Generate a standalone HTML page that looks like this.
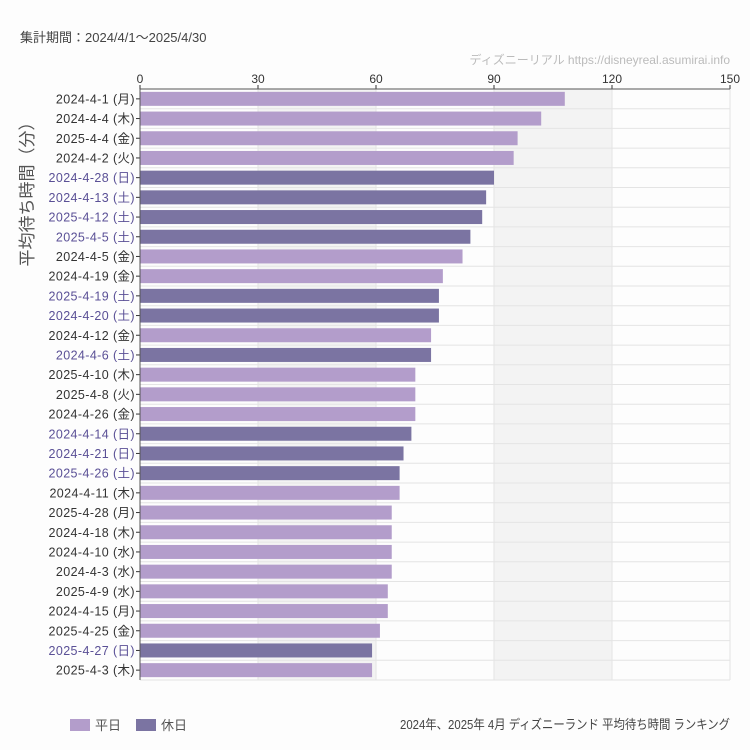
<!DOCTYPE html>
<html><head><meta charset="utf-8"><style>
body{margin:0;background:#fdfdfd;width:750px;height:750px;overflow:hidden}
svg{display:block;font-family:"Liberation Sans","Noto Sans CJK JP",sans-serif}
</style></head><body>
<svg id="chart" width="750" height="750">
<text x="20" y="42" font-size="13" fill="#444">集計期間：2024/4/1～2025/4/30</text>
<text x="730" y="64" font-size="12" fill="#bbb" text-anchor="end">ディズニーリアル https://disneyreal.asumirai.info</text>
<text transform="translate(33,190) rotate(-90)" font-size="17" fill="#555" text-anchor="middle">平均待ち時間（分）</text>
<g id="plot"></g>
<rect x="70" y="719" width="20" height="12" fill="#b39dcb"/>
<text x="95" y="730" font-size="13" fill="#555">平日</text>
<rect x="136" y="719" width="20" height="12" fill="#7b74a2"/>
<text x="161" y="730" font-size="13" fill="#555">休日</text>
<text x="730" y="729" font-size="13" fill="#444" text-anchor="end" textLength="330" lengthAdjust="spacingAndGlyphs">2024年、2025年 4月 ディズニーランド 平均待ち時間 ランキング</text>
</svg>
<script>
const categories=["2024-4-1 (月)","2024-4-4 (木)","2025-4-4 (金)","2024-4-2 (火)","2024-4-28 (日)","2024-4-13 (土)","2025-4-12 (土)","2025-4-5 (土)","2024-4-5 (金)","2024-4-19 (金)","2025-4-19 (土)","2024-4-20 (土)","2024-4-12 (金)","2024-4-6 (土)","2025-4-10 (木)","2025-4-8 (火)","2024-4-26 (金)","2024-4-14 (日)","2024-4-21 (日)","2025-4-26 (土)","2024-4-11 (木)","2025-4-28 (月)","2024-4-18 (木)","2024-4-10 (水)","2024-4-3 (水)","2025-4-9 (水)","2024-4-15 (月)","2025-4-25 (金)","2025-4-27 (日)","2025-4-3 (木)"];
const values=[108,102,96,95,90,88,87,84,82,77,76,76,74,74,70,70,70,69,67,66,66,64,64,64,64,63,63,61,59,59];
const holiday=[0,0,0,0,1,1,1,1,0,0,1,1,0,1,0,0,0,1,1,1,0,0,0,0,0,0,0,0,1,0];
const ticks=[0,30,60,90,120,150];
const X0=140,X1=730,Y0=89,Y1=680,MAX=150;
const xs=v=>X0+(X1-X0)*v/MAX;
const step=(Y1-Y0)/categories.length;
const ys=i=>Y0+step*i;
const NS="http://www.w3.org/2000/svg";
const g=document.getElementById('plot');
function mk(t,a){const e=document.createElementNS(NS,t);for(const k in a)e.setAttribute(k,a[k]);g.appendChild(e);return e;}
for(let i=0;i<ticks.length-1;i++){if(i%2==1){const r=mk('rect',{x:xs(ticks[i]),y:Y0,width:xs(ticks[i+1])-xs(ticks[i]),height:Y1-Y0,fill:'#f3f3f3'});

}}
for(let i=0;i<=categories.length;i++){const l=mk('line',{x1:X0,x2:X1,y1:ys(i),y2:ys(i),stroke:'#e4e4e4'});

}
ticks.forEach(t=>{const l=mk('line',{x1:xs(t),x2:xs(t),y1:Y0,y2:Y1,stroke:'#e4e4e4'});


const tk=mk('line',{x1:xs(t),x2:xs(t),y1:Y0-4,y2:Y0,stroke:'#333'});


const tx=mk('text',{x:xs(t),y:Y0-6,'font-size':12,fill:'#333','text-anchor':'middle'});tx.textContent=t;

});
categories.forEach((c,i)=>{const cy=ys(i)+step/2;
const b=mk('rect',{x:X0,y:cy-7,width:xs(values[i])-X0,height:14,fill:holiday[i]?'#7b74a2':'#b39dcb'});


const tk=mk('line',{x1:X0-4,x2:X0,y1:cy,y2:cy,stroke:'#333'});


const tx=mk('text',{x:X0-5,y:cy+4.5,'font-size':12.5,'letter-spacing':0.4,fill:holiday[i]?'#5a5096':'#333','text-anchor':'end'});tx.textContent=c;

});
const ax=mk('line',{x1:X0,x2:X1,y1:Y0,y2:Y0,stroke:'#555'});


const ay=mk('line',{x1:X0,x2:X0,y1:Y0,y2:Y1,stroke:'#555'});


</script>
</body></html>
